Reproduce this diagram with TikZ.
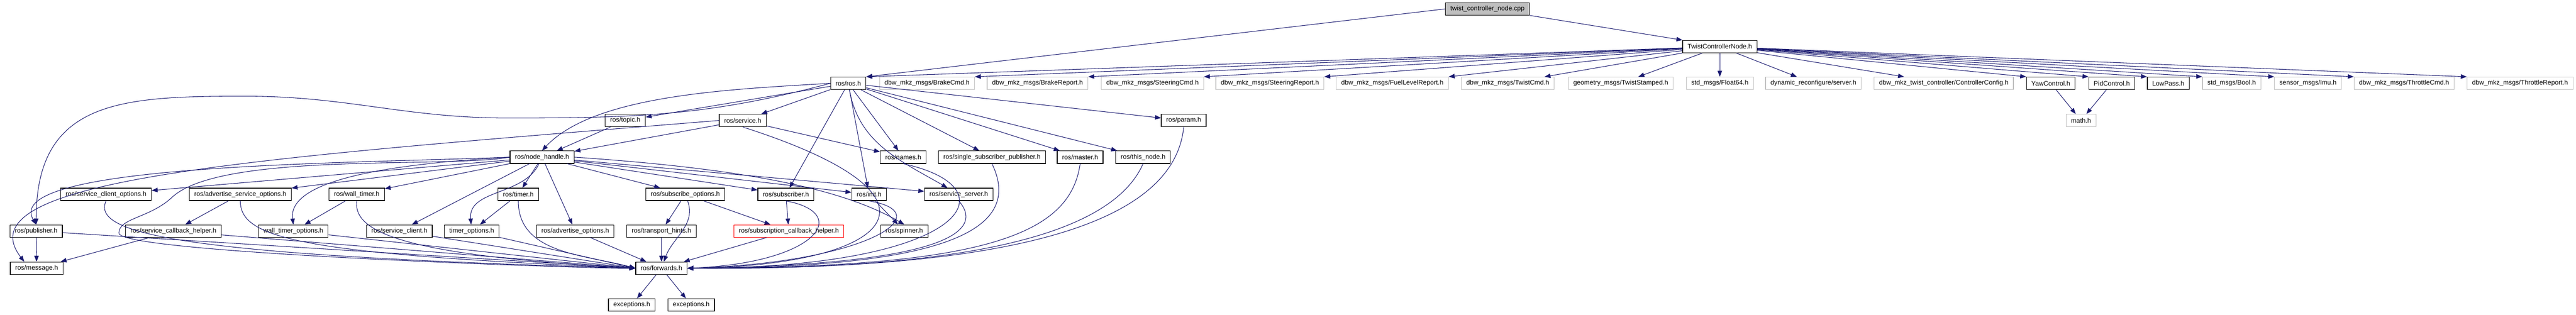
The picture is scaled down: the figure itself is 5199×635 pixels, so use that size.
\documentclass[tikz,border=0pt]{standalone}
\usepackage{fontspec}
\setmainfont{Liberation Sans}
\usepackage{tikz}
\usetikzlibrary{arrows.meta}
\definecolor{edgeblue}{HTML}{191970}
\definecolor{extgray}{HTML}{BFBFBF}
\tikzset{
  hdr/.style={rectangle, draw=black, line width=1.3pt, minimum height=25pt, inner xsep=10pt, inner ysep=0pt, font=\fontsize{13.2}{15}\selectfont},
  exthdr/.style={hdr, draw=extgray},
  roothdr/.style={hdr, fill=extgray},
  cuthdr/.style={hdr, draw=red},
  dep/.style={->, draw=edgeblue, line width=1.1pt}
}
\newcommand{\incnode}[3] {\node at (#1) (#2) [hdr] {#3};}
\newcommand{\extnode}[3] {\node at (#1) (#2) [exthdr] {#3};}
\newcommand{\incedge}[2] {\draw [dep] (#1) -- (#2);}
\newcommand{\incarc}[4] {\draw [dep] (#1) to[out=#3, in=#4] (#2);}
\newcommand{\inccurve}[4] {\draw [dep] (#1) .. controls (#3) and (#4) .. (#2);}

\begin{document}
\begin{tikzpicture}[x=1pt, y=1pt, >={Triangle[length=12pt, width=9pt]}]
\useasboundingbox (0,0) rectangle (5199,-635);

\node at (3002,-18) (root) [roothdr] {twist\_controller\_node.cpp};
\incnode {3471,-94}{ctrlnode}{TwistControllerNode.h};

\incnode {1712,-168}{rosh}{ros/ros.h};
\extnode {1871,-168}{brakecmd}{dbw\_mkz\_msgs/BrakeCmd.h};
\extnode {2094,-168}{brakerpt}{dbw\_mkz\_msgs/BrakeReport.h};
\extnode {2326,-168}{steercmd}{dbw\_mkz\_msgs/SteeringCmd.h};
\extnode {2563,-168}{steerrpt}{dbw\_mkz\_msgs/SteeringReport.h};
\extnode {2810,-168}{fuelrpt}{dbw\_mkz\_msgs/FuelLevelReport.h};
\extnode {3043,-168}{twistcmd}{dbw\_mkz\_msgs/TwistCmd.h};
\extnode {3271,-168}{twiststamped}{geometry\_msgs/TwistStamped.h};
\extnode {3471,-168}{float}{std\_msgs/Float64.h};
\extnode {3660,-168}{drserver}{dynamic\_reconfigure/server.h};
\extnode {3923,-168}{ctrlconfig}{dbw\_mkz\_twist\_controller/ControllerConfig.h};
\incnode {4139,-168}{yawctrl}{YawControl.h};
\incnode {4262,-168}{pidctrl}{PidControl.h};
\incnode {4376,-168}{lowpass}{LowPass.h};
\extnode {4504,-168}{boolh}{std\_msgs/Bool.h};
\extnode {4658,-168}{imu}{sensor\_msgs/Imu.h};
\extnode {4852,-168}{throttlecmd}{dbw\_mkz\_msgs/ThrottleCmd.h};
\extnode {5086,-168}{throttlerpt}{dbw\_mkz\_msgs/ThrottleReport.h};

\incnode {1262,-243}{topic}{ros/topic.h};
\incnode {1499,-243}{service}{ros/service.h};
\incnode {2389,-243}{param}{ros/param.h};
\extnode {4200,-243}{math}{math.h};

\incnode {1094,-317}{nodehandle}{ros/node\_handle.h};
\incnode {1823,-317}{names}{ros/names.h};
\incnode {2002,-317}{ssp}{ros/single\_subscriber\_publisher.h};
\incnode {2180,-317}{master}{ros/master.h};
\incnode {2307,-317}{thisnode}{ros/this\_node.h};

\incnode {214,-392}{servclientopts}{ros/service\_client\_options.h};
\incnode {485,-392}{advservopts}{ros/advertise\_service\_options.h};
\incnode {720,-392}{walltimer}{ros/wall\_timer.h};
\incnode {1046,-392}{timer}{ros/timer.h};
\incnode {1383,-392}{subopts}{ros/subscribe\_options.h};
\incnode {1586,-392}{subscriber}{ros/subscriber.h};
\incnode {1754,-392}{init}{ros/init.h};
\incnode {1935,-392}{servserver}{ros/service\_server.h};

\incnode {73,-466}{publisher}{ros/publisher.h};
\incnode {350,-466}{servcbhelper}{ros/service\_callback\_helper.h};
\incnode {592,-466}{walltimeropts}{wall\_timer\_options.h};
\incnode {806,-466}{servclient}{ros/service\_client.h};
\incnode {952,-466}{timeropts}{timer\_options.h};
\incnode {1161,-466}{advopts}{ros/advertise\_options.h};
\incnode {1335,-466}{transport}{ros/transport\_hints.h};
\node at (1592,-466) (subcbhelper) [cuthdr] {ros/subscription\_callback\_helper.h};
\incnode {1825,-466}{spinner}{ros/spinner.h};

\incnode {74,-541}{message}{ros/message.h};
\incnode {1335,-541}{forwards}{ros/forwards.h};

\incnode {1275,-615}{excone}{exceptions.h};
\incnode {1395,-615}{exctwo}{exceptions.h};

% top file
\incedge {root.west}{rosh.north east};
\incedge {root.south east}{ctrlnode.north west};

% TwistControllerNode.h
\incedge {ctrlnode}{rosh.north east};
\incedge {ctrlnode}{brakecmd.north east};
\incedge {ctrlnode}{brakerpt.north east};
\incedge {ctrlnode}{steercmd.north east};
\incedge {ctrlnode}{steerrpt.north east};
\incedge {ctrlnode}{fuelrpt.north east};
\incedge {ctrlnode}{[xshift=-20pt]twistcmd.north east};
\incedge {ctrlnode}{twiststamped};
\incedge {ctrlnode}{float};
\incedge {ctrlnode}{drserver};
\incedge {ctrlnode}{ctrlconfig};
\incedge {ctrlnode}{yawctrl.north west};
\incedge {ctrlnode}{pidctrl.north west};
\incedge {ctrlnode}{lowpass.north west};
\incedge {ctrlnode}{boolh.north west};
\incedge {ctrlnode}{imu.north west};
\incedge {ctrlnode}{throttlecmd.north west};
\incedge {ctrlnode}{throttlerpt.north west};
\incedge {yawctrl}{math};
\incedge {pidctrl}{math};

% ros/ros.h
\draw [dep] (rosh.west) to[out=195, in=0] (1024,-238) to[out=180, in=0] (495,-194) to[out=180, in=90, looseness=1.3] (publisher.north);
\inccurve {rosh.west}{nodehandle.north}{1480,-180}{1200,-190};
\incedge {rosh}{topic};
\incedge {rosh}{service};
\incedge {rosh}{param};
\incedge {rosh}{names};
\incedge {rosh}{ssp};
\incedge {rosh}{master};
\incedge {rosh}{thisnode};
\incedge {rosh}{subscriber};
\incedge {rosh}{init};
\incarc {rosh}{servserver}{-80}{150};

% ros/service.h and ros/topic.h
\incedge {topic}{nodehandle};
\incedge {service}{nodehandle};
\incedge {service}{names};
\inccurve {service.west}{[xshift=-25pt]message.north}{500,-320}{-80,-360};
\inccurve {service.south}{forwards.east}{1950,-400}{1800,-535};

% ros/node_handle.h
\inccurve {nodehandle.west}{publisher.north}{700,-330}{0,-330};
\incedge {nodehandle}{servclientopts};
\incedge {nodehandle}{advservopts};
\incedge {nodehandle}{walltimer};
\inccurve {nodehandle.west}{walltimeropts.north}{800,-330}{580,-360};
\incedge {nodehandle}{servclient};
\incedge {nodehandle}{timer};
\incarc {nodehandle}{timeropts}{-115}{95};
\incedge {nodehandle}{advopts};
\incedge {nodehandle}{subopts};
\incedge {nodehandle}{subscriber};
\incedge {nodehandle}{init};
\incedge {nodehandle}{servserver};
\inccurve {nodehandle.east}{spinner.north}{1500,-340}{1700,-380};
\draw [dep] (nodehandle.west) .. controls (900,-340) and (440,-305) .. (345,-400) .. controls (300,-440) and (240,-440) .. (240,-470) .. controls (240,-511) and (1200,-542) .. (forwards.west);

% left part
\incedge {publisher}{message};
\incedge {publisher}{forwards.west};
\incedge {servcbhelper}{message};
\incedge {servcbhelper}{forwards.west};
\incedge {advservopts}{servcbhelper};
\inccurve {servclientopts.south}{forwards.west}{185,-470}{350,-515};
\inccurve {advservopts.south}{forwards.west}{485,-480}{600,-512};
\incedge {walltimer}{walltimeropts};
\inccurve {walltimer.south}{forwards.west}{712,-470}{820,-515};
\incedge {walltimeropts}{forwards.west};
\incedge {servclient}{forwards.west};
\incedge {timer}{timeropts};
\incarc {timer}{forwards.west}{-90}{165};
\incedge {timeropts}{forwards.west};
\incedge {advopts}{forwards};

% middle part
\incedge {subopts}{transport};
\incarc {subopts}{forwards}{-70}{70};
\incedge {subopts}{subcbhelper};
\incedge {transport}{forwards};
\incedge {subcbhelper}{forwards};
\incedge {subscriber}{subcbhelper};
\inccurve {subscriber.south}{forwards.east}{1720,-430}{1650,-530};
\incedge {init}{spinner};
\inccurve {init.south}{forwards.east}{1900,-430}{1750,-530};
\inccurve {servserver.south}{forwards.east}{2000,-480}{1850,-535};

% right part
\inccurve {names.south}{forwards.east}{2050,-380}{1950,-540};
\inccurve {ssp.south}{forwards.east}{2060,-450}{1950,-540};
\inccurve {master.south}{forwards.east}{2160,-470}{2000,-540};
\inccurve {thisnode.south}{forwards.east}{2250,-460}{2000,-545};
\inccurve {param.south}{forwards.east}{2370,-450}{2050,-545};

\incedge {forwards}{excone};
\incedge {forwards}{exctwo};

\end{tikzpicture}
\end{document}
